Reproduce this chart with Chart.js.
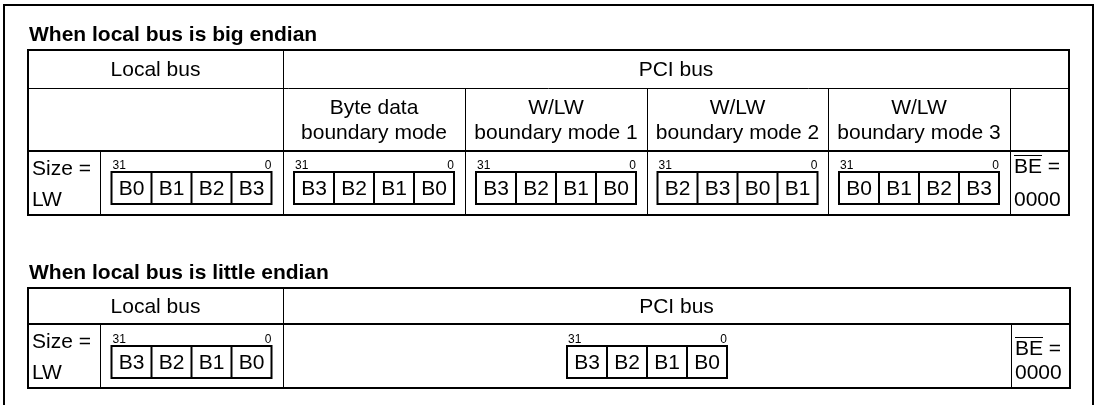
<!DOCTYPE html>
<html>
<head>
<meta charset="utf-8">
<script src="https://cdn.jsdelivr.net/npm/chart.js@4.4.0/dist/chart.umd.min.js"></script>
<style>
  body { margin: 0; background: #fff; }
  #wrap { width: 1100px; height: 405px; }
</style>
</head>
<body>
<div id="wrap"><canvas id="chart" width="1100" height="405"></canvas></div>
<script>
// table content
const sectionTitles = ["When local bus is big endian", "When local bus is little endian"];
const busHeaders = ["Local bus", "PCI bus"];
const modeHeaders = [
  ["Byte data", "boundary mode"],
  ["W/LW", "boundary mode 1"],
  ["W/LW", "boundary mode 2"],
  ["W/LW", "boundary mode 3"]
];
const sizeLabel = ["Size =", "LW"];
const beLabel = ["BE", " =", "0000"];
const bitLabels = ["31", "0"];

// byte lanes, left (bit 31) to right (bit 0)
const localBigOrder = ["B0", "B1", "B2", "B3"];
const pciBigOrders = [
  ["B3", "B2", "B1", "B0"],
  ["B3", "B2", "B1", "B0"],
  ["B2", "B3", "B0", "B1"],
  ["B0", "B1", "B2", "B3"]
];
const localLittleOrder = ["B3", "B2", "B1", "B0"];
const pciLittleOrder = ["B3", "B2", "B1", "B0"];

const FONT = '"Liberation Sans", Arial, sans-serif';

const diagramPlugin = {
  id: "endianDiagram",
  afterDraw(chart) {
    const ctx = chart.ctx;
    const sx = chart.scales.x, sy = chart.scales.y;
    const X = v => sx.getPixelForValue(v);
    const Y = v => sy.getPixelForValue(v);

    const line = (x1, y1, x2, y2, w) => {
      ctx.save();
      ctx.lineWidth = w;
      ctx.strokeStyle = "#000";
      const o = w % 2 === 1 ? 0.5 : 0;
      ctx.beginPath();
      if (x1 === x2) {
        ctx.moveTo(X(x1) + o, Y(y1));
        ctx.lineTo(X(x2) + o, Y(y2));
      } else {
        ctx.moveTo(X(x1), Y(y1) + o);
        ctx.lineTo(X(x2), Y(y2) + o);
      }
      ctx.stroke();
      ctx.restore();
    };
    const rect = (x1, y1, x2, y2, w) => {
      ctx.save();
      ctx.lineWidth = w;
      ctx.strokeStyle = "#000";
      ctx.strokeRect(X(x1), Y(y1), X(x2) - X(x1), Y(y2) - Y(y1));
      ctx.restore();
    };
    const text = (s, x, y, align, font, base) => {
      ctx.save();
      ctx.fillStyle = "#000";
      ctx.font = font || "21px " + FONT;
      ctx.textAlign = align || "left";
      ctx.textBaseline = base || "alphabetic";
      ctx.fillText(s, X(x), Y(y));
      ctx.restore();
    };

    // 4-byte lane box, centred on cx
    const byteBox = (order, cx, top) => {
      const cw = 40, h = 32;
      const left = cx - cw * order.length / 2;
      const right = left + cw * order.length;
      text(bitLabels[0], left + 1, top - 3, "left", "12px " + FONT);
      text(bitLabels[1], right, top - 3, "right", "12px " + FONT);
      order.forEach((b, i) => {
        if (i > 0) line(left + i * cw, top, left + i * cw, top + h, 2);
        text(b, left + i * cw + cw / 2, top + h / 2 + 1, "center", "21px " + FONT, "middle");
      });
      rect(left, top, right, top + h, 2);
    };

    const sizeCell = (rowTop) => {
      text(sizeLabel[0], 32, rowTop + 24);
      text(sizeLabel[1], 32, rowTop + 55);
    };
    // BE with overline; dy shifts the pair of lines down
    const beCell = (x, rowTop, dy) => {
      ctx.save();
      ctx.font = "21px " + FONT;
      const w = ctx.measureText(beLabel[0]).width;
      ctx.restore();
      text(beLabel[0], x, rowTop + 22 + dy);
      text(beLabel[1], x + w, rowTop + 22 + dy);
      line(x, rowTop + 4 + dy, x + w, rowTop + 4 + dy, 1);
      text(beLabel[2], x, rowTop + 55);
    };

    // outer frame
    rect(4, 5, 1093, 412, 2);

    // ---- big endian table
    const t1 = { l: 28, r: 1069, top: 50, h1: 88, h2: 151, bot: 215 };
    const cols1 = [283, 465, 647, 828, 1010];
    text(sectionTitles[0], 29, 41, "left", "bold 21px " + FONT);
    line(t1.l, t1.h1, t1.r, t1.h1, 1);
    line(t1.l, t1.h2, t1.r, t1.h2, 2);
    line(cols1[0], t1.top, cols1[0], t1.bot, 1);
    for (let i = 1; i < cols1.length; i++) line(cols1[i], t1.h1, cols1[i], t1.bot, 1);
    line(100, t1.h2, 100, t1.bot, 1);
    rect(t1.l, t1.top, t1.r, t1.bot, 2);
    text(busHeaders[0], (t1.l + cols1[0]) / 2, (t1.top + t1.h1) / 2 + 1, "center", null, "middle");
    text(busHeaders[1], (cols1[0] + t1.r) / 2, (t1.top + t1.h1) / 2 + 1, "center", null, "middle");
    modeHeaders.forEach((m, i) => {
      const cx = (cols1[i] + cols1[i + 1]) / 2;
      text(m[0], cx, 108, "center", null, "middle");
      text(m[1], cx, 133, "center", null, "middle");
    });
    sizeCell(t1.h2);
    byteBox(localBigOrder, (100 + cols1[0]) / 2, 172);
    pciBigOrders.forEach((o, i) => byteBox(o, (cols1[i] + cols1[i + 1]) / 2, 172));
    beCell(1014, t1.h2, 0);

    // ---- little endian table
    const t2 = { l: 28, r: 1070, top: 288, h1: 324, bot: 388 };
    text(sectionTitles[1], 29, 279, "left", "bold 21px " + FONT);
    line(t2.l, t2.h1, t2.r, t2.h1, 2);
    line(283, t2.top, 283, t2.bot, 1);
    line(100, t2.h1, 100, t2.bot, 1);
    line(1011, t2.h1, 1011, t2.bot, 1);
    rect(t2.l, t2.top, t2.r, t2.bot, 2);
    text(busHeaders[0], (t2.l + 283) / 2, (t2.top + t2.h1) / 2 + 1, "center", null, "middle");
    text(busHeaders[1], (283 + t2.r) / 2, (t2.top + t2.h1) / 2 + 1, "center", null, "middle");
    sizeCell(t2.h1);
    byteBox(localLittleOrder, (100 + 283) / 2, 346);
    byteBox(pciLittleOrder, (283 + 1011) / 2, 346);
    beCell(1015, t2.h1, 9);
  }
};

new Chart(document.getElementById("chart"), {
  type: "scatter",
  data: { datasets: [{ data: [] }] },
  options: {
    responsive: false,
    animation: false,
    devicePixelRatio: 1,
    layout: { padding: 0 },
    plugins: { legend: { display: false }, tooltip: { enabled: false } },
    scales: {
      x: { type: "linear", min: 0, max: 1100, display: false },
      y: { type: "linear", min: 0, max: 405, reverse: true, display: false }
    }
  },
  plugins: [diagramPlugin]
});
</script>
</body>
</html>
